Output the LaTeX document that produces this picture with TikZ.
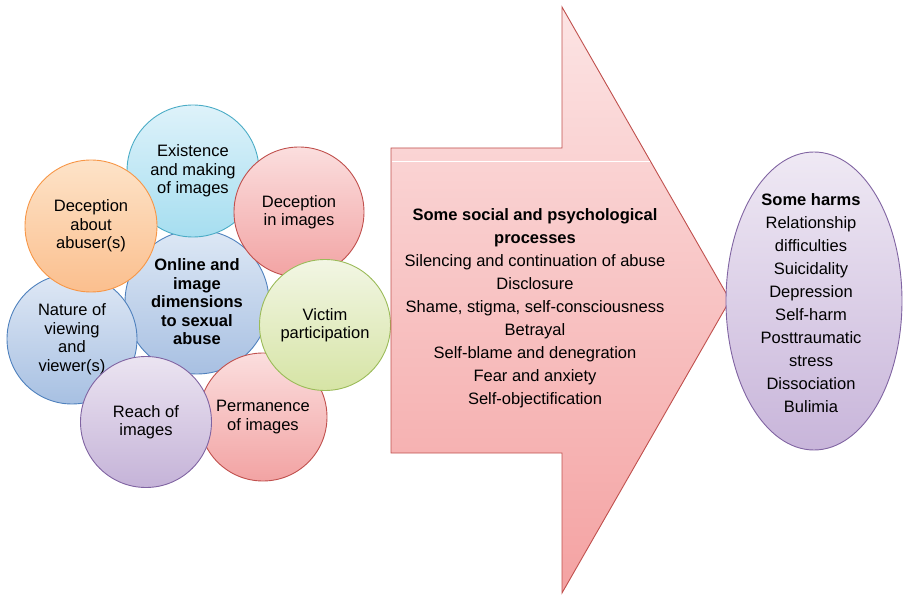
\documentclass[tikz,border=0pt]{standalone}
\usepackage{fontspec}
\setmainfont{Liberation Sans}
\usetikzlibrary{shapes.geometric}
\definecolor{ctrT}{HTML}{DDE8F5}\definecolor{ctrB}{HTML}{A8C0E2}\definecolor{ctrD}{HTML}{4F81BD}
\definecolor{cyaT}{HTML}{DEF2FA}\definecolor{cyaB}{HTML}{A6DEF0}\definecolor{cyaD}{HTML}{4BACC6}
\definecolor{oraT}{HTML}{FDE3C8}\definecolor{oraB}{HTML}{FBBF8E}\definecolor{oraD}{HTML}{F79646}
\definecolor{redT}{HTML}{FBDEDE}\definecolor{redB}{HTML}{F2A3A3}\definecolor{redD}{HTML}{C0504D}
\definecolor{greT}{HTML}{F2F6E4}\definecolor{greB}{HTML}{D6E4A5}\definecolor{greD}{HTML}{9BBB59}
\definecolor{purT}{HTML}{EBE4F1}\definecolor{purB}{HTML}{C5B3D8}\definecolor{purD}{HTML}{8064A2}
\definecolor{bluT}{HTML}{DFE8F5}\definecolor{bluB}{HTML}{A7C0E2}\definecolor{bluD}{HTML}{4F81BD}
\definecolor{arrT}{HTML}{FCE4E4}\definecolor{arrB}{HTML}{F4A2A2}\definecolor{arrD}{HTML}{C0504D}
\definecolor{ellT}{HTML}{EFE9F4}\definecolor{ellB}{HTML}{C8B5DA}\definecolor{ellD}{HTML}{8064A2}
\begin{document}
\begin{tikzpicture}[x=1pt,y=-1pt,
  bubble/.style={circle,inner sep=0pt,align=center,line width=0.9pt,
    font=\fontsize{16.5}{18.5}\selectfont},
  ctrfill/.style={top color=ctrT,bottom color=ctrB,draw=ctrD},
  cyafill/.style={top color=cyaT,bottom color=cyaB,draw=cyaD},
  orafill/.style={top color=oraT,bottom color=oraB,draw=oraD},
  redfill/.style={top color=redT,bottom color=redB,draw=redD},
  grefill/.style={top color=greT,bottom color=greB,draw=greD},
  purfill/.style={top color=purT,bottom color=purB,draw=purD},
  blufill/.style={top color=bluT,bottom color=bluB,draw=bluD},
  listtext/.style={align=center,font=\fontsize{16.5}{23}\selectfont,inner sep=0pt}
]
\useasboundingbox (0,0) rectangle (903,596);

% circles, back to front
\node[bubble,ctrfill,minimum size=144pt] (center) at (197,302)
  {\bfseries Online and\\\bfseries image\\\bfseries dimensions\\\bfseries to sexual\\\bfseries abuse};
\node[bubble,cyafill,minimum size=132pt] (exist) at (193,171)
  {Existence\\and making\\of images};
\node[bubble,redfill,minimum size=130pt] (decimg) at (299,212)
  {Deception\\in images};
\node[bubble,redfill,minimum size=128pt] (perm) at (263,417)
  {Permanence\\of images};
\node[bubble,grefill,minimum size=131pt] (victim) at (325,325)
  {Victim\\participation};
\node[bubble,blufill,minimum size=130pt] (nature) at (72,339)
  {Nature of\\viewing\\and\\viewer(s)};
\node[bubble,orafill,minimum size=132pt] (decab) at (91,226)
  {Deception\\about\\abuser(s)};
\node[bubble,purfill,minimum size=131pt] (reach) at (146,422)
  {Reach of\\images};

% big arrow
\coordinate (a1) at (391,148);
\coordinate (a2) at (562,148);
\coordinate (a3) at (562,7);
\coordinate (tip) at (730,300);
\coordinate (a5) at (562,593);
\coordinate (a6) at (562,453);
\coordinate (a7) at (391,453);
\shade[top color=arrT,bottom color=arrB,draw=arrD,line width=0.9pt]
  (a1) -- (a2) -- (a3) -- (tip) -- (a5) -- (a6) -- (a7) -- cycle;
\coordinate (w1) at (392,161);
\coordinate (w2) at (650,161);
\draw[white,line width=0.8pt] (w1) -- (w2);

\node[listtext] (proc) at (535,308.5)
  {\textbf{Some social and psychological}\\\textbf{processes}\\
   Silencing and continuation of abuse\\Disclosure\\
   Shame, stigma, self-consciousness\\Betrayal\\
   Self-blame and denegration\\Fear and anxiety\\Self-objectification};

% ellipse
\node[ellipse,inner sep=0pt,minimum width=176pt,minimum height=298pt,
  top color=ellT,bottom color=ellB,draw=ellD,line width=0.9pt] (harmsbox) at (814,301) {};
\node[listtext] (harms) at (811,303.5)
  {\textbf{Some harms}\\Relationship\\difficulties\\Suicidality\\Depression\\
   Self-harm\\Posttraumatic\\stress\\Dissociation\\Bulimia};
\end{tikzpicture}
\end{document}
